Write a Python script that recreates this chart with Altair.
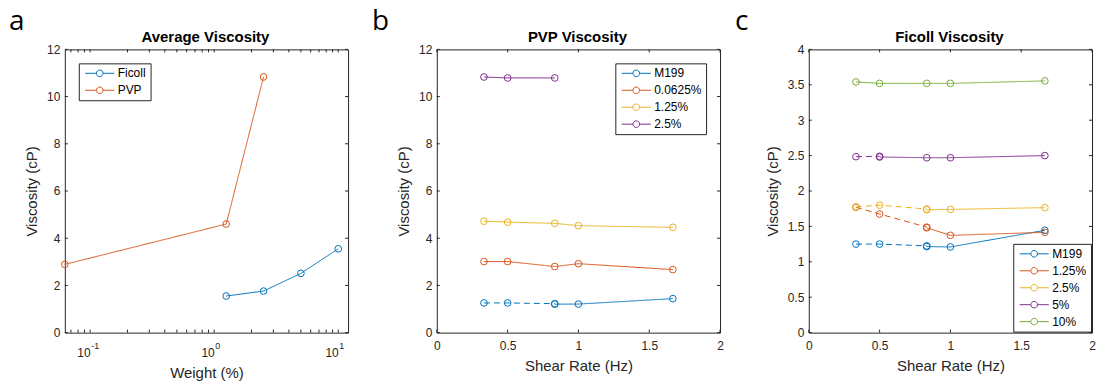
import altair as alt
import pandas as pd

# ---------------- colours / style ----------------
BLUE, ORANGE, YELLOW, PURPLE, GREEN = "#0072BD", "#D95319", "#EDB120", "#7E2F8E", "#77AC30"
AXC = "#262626"
FONT = "Liberation Sans"
W, H = 284, 284

# ---------------- panel a: average viscosity ----------------
a_series = ["Ficoll", "PVP"]
a_colors = [BLUE, ORANGE]
a_ficoll_x = [1.25, 2.5, 5, 10]
a_ficoll_y = [1.55, 1.76, 2.51, 3.55]
a_pvp_x = [0.0625, 1.25, 2.5]
a_pvp_y = [2.89, 4.60, 10.83]
a_xmajor = [0.1, 1, 10]
a_xminor = [0.07, 0.08, 0.09, 0.2, 0.3, 0.4, 0.5, 0.6, 0.7, 0.8, 0.9,
            2, 3, 4, 5, 6, 7, 8, 9]
a_exponents = ["-1", "0", "1"]
a_yticks = [0, 2, 4, 6, 8, 10, 12]

# ---------------- panel b: PVP viscosity ----------------
b_series = ["M199", "0.0625%", "1.25%", "2.5%"]
b_colors = [BLUE, ORANGE, YELLOW, PURPLE]
b_m199_dash_x = [0.333, 0.5, 0.833]
b_m199_dash_y = [1.257, 1.257, 1.225]
b_m199_solid_x = [0.833, 1.0, 1.667]
b_m199_solid_y = [1.205, 1.21, 1.44]
b_p00625_x = [0.333, 0.5, 0.833, 1.0, 1.667]
b_p00625_y = [3.01, 3.01, 2.80, 2.92, 2.67]
b_p125_x = [0.333, 0.5, 0.833, 1.0, 1.667]
b_p125_y = [4.72, 4.68, 4.63, 4.53, 4.46]
b_p25_x = [0.333, 0.5, 0.833]
b_p25_y = [10.83, 10.79, 10.79]
b_yticks = [0, 2, 4, 6, 8, 10, 12]

# ---------------- panel c: Ficoll viscosity ----------------
c_series = ["M199", "1.25%", "2.5%", "5%", "10%"]
c_colors = [BLUE, ORANGE, YELLOW, PURPLE, GREEN]
c_m199_dash_x = [0.333, 0.5, 0.833]
c_m199_dash_y = [1.25, 1.25, 1.225]
c_m199_solid_x = [0.833, 1.0, 1.667]
c_m199_solid_y = [1.215, 1.21, 1.445]
c_f125_dash_x = [0.333, 0.5, 0.833]
c_f125_dash_y = [1.77, 1.675, 1.49]
c_f125_solid_x = [0.833, 1.0, 1.667]
c_f125_solid_y = [1.48, 1.374, 1.416]
c_f25_dash_x = [0.333, 0.5, 0.833]
c_f25_dash_y = [1.775, 1.80, 1.745]
c_f25_solid_x = [0.833, 1.0, 1.667]
c_f25_solid_y = [1.735, 1.74, 1.765]
c_f5_dash_x = [0.333, 0.5]
c_f5_dash_y = [2.485, 2.49]
c_f5_solid_x = [0.5, 0.833, 1.0, 1.667]
c_f5_solid_y = [2.48, 2.47, 2.47, 2.50]
c_f10_x = [0.333, 0.5, 0.833, 1.0, 1.667]
c_f10_y = [3.54, 3.52, 3.52, 3.52, 3.555]
c_yticks = [0, 0.5, 1, 1.5, 2, 2.5, 3, 3.5, 4]

shear_ticks = [0, 0.5, 1, 1.5, 2]


def seg(series, style, key, xs, ys):
    return pd.DataFrame({"series": series, "style": style, "seg": key, "x": xs, "y": ys})


df_a = pd.concat([
    seg("Ficoll", "solid", "f", a_ficoll_x, a_ficoll_y),
    seg("PVP", "solid", "p", a_pvp_x, a_pvp_y),
])
df_b = pd.concat([
    seg("M199", "dash", "m1", b_m199_dash_x, b_m199_dash_y),
    seg("M199", "solid", "m2", b_m199_solid_x, b_m199_solid_y),
    seg("0.0625%", "solid", "a", b_p00625_x, b_p00625_y),
    seg("1.25%", "solid", "b", b_p125_x, b_p125_y),
    seg("2.5%", "solid", "c", b_p25_x, b_p25_y),
])
df_c = pd.concat([
    seg("M199", "dash", "m1", c_m199_dash_x, c_m199_dash_y),
    seg("M199", "solid", "m2", c_m199_solid_x, c_m199_solid_y),
    seg("1.25%", "dash", "a1", c_f125_dash_x, c_f125_dash_y),
    seg("1.25%", "solid", "a2", c_f125_solid_x, c_f125_solid_y),
    seg("2.5%", "dash", "b1", c_f25_dash_x, c_f25_dash_y),
    seg("2.5%", "solid", "b2", c_f25_solid_x, c_f25_solid_y),
    seg("5%", "dash", "c1", c_f5_dash_x, c_f5_dash_y),
    seg("5%", "solid", "c2", c_f5_solid_x, c_f5_solid_y),
    seg("10%", "solid", "d", c_f10_x, c_f10_y),
])

LEG_PATH = "M-4.4,0L-1,0M1,0L4.4,0M-1,0A1,1 0 1,1 1,0A1,1 0 1,1 -1,0"


def panel(df, series, colors, xscale, xaxis, yscale, yaxis, xticks, yticks,
          leg_orient, leg_offset, title, letter, letter_dx, extra=None):
    legend = alt.Legend(
        title=None, orient=leg_orient, offset=leg_offset,
        fillColor="white", strokeColor=AXC, padding=4,
        symbolType=LEG_PATH, symbolSize=44, symbolStrokeWidth=1,
        symbolFillColor="transparent", symbolOffset=11,
        labelOffset=12, labelFont=FONT, labelFontSize=12, labelColor="black",
        rowPadding=5,
    )
    color = alt.Color("series:N", scale=alt.Scale(domain=series, range=colors),
                      legend=legend, sort=series)
    X = alt.X("x:Q", scale=xscale, axis=xaxis)
    Y = alt.Y("y:Q", scale=yscale, axis=yaxis)
    lines = alt.Chart(df).mark_line(strokeWidth=1).encode(
        x=X, y=Y, color=color, detail="seg:N",
        strokeDash=alt.StrokeDash("style:N", scale=alt.Scale(domain=["solid", "dash"],
                                                            range=[[1, 0], [6, 4]]),
                                  legend=None),
    )
    points = alt.Chart(df).mark_point(shape="circle", filled=False, size=45,
                                      strokeWidth=1, opacity=1).encode(
        x=X, y=Y, color=color)
    xt = pd.DataFrame({"x": xticks})
    yt = pd.DataFrame({"y": yticks})
    tb = alt.Chart(xt).mark_rule(color=AXC, strokeWidth=1).encode(
        x=X, y=alt.value(H), y2=alt.value(H - 3))
    tt = alt.Chart(xt).mark_rule(color=AXC, strokeWidth=1).encode(
        x=X, y=alt.value(0), y2=alt.value(3))
    tl = alt.Chart(yt).mark_rule(color=AXC, strokeWidth=1).encode(
        y=Y, x=alt.value(0), x2=alt.value(3))
    tr = alt.Chart(yt).mark_rule(color=AXC, strokeWidth=1).encode(
        y=Y, x=alt.value(W), x2=alt.value(W - 3))
    let = alt.Chart(pd.DataFrame({"t": [letter]})).mark_text(
        font="Open Sans", fontSize=28, align="left", baseline="alphabetic",
        color="black").encode(text="t:N", x=alt.value(letter_dx), y=alt.value(-19))
    ttl = alt.Chart(pd.DataFrame({"t": [title]})).mark_text(
        font=FONT, fontSize=15, fontWeight="bold", align="center",
        baseline="alphabetic", color="black").encode(
        text="t:N", x=alt.value(W / 2 - 1), y=alt.value(-7))
    layers = [tb, tt, tl, tr, lines, points, let, ttl]
    if extra is not None:
        layers.append(extra)
    return alt.layer(*layers).properties(width=W, height=H)


# ---- panel a ----
a_xscale = alt.Scale(type="log", domain=[0.0625, 12], nice=False)
a_xaxis = alt.Axis(title="Weight (%)", values=a_xmajor, labelExpr="'10'",
                   labelAlign="right", labelPadding=15, titlePadding=7)
a_yscale = alt.Scale(domain=[0, 12], nice=False, zero=False)
a_yaxis = alt.Axis(title="Viscosity (cP)", values=a_yticks, format="~g")
a_exp = alt.Chart(pd.DataFrame({"x": a_xmajor, "t": a_exponents})).mark_text(
    font=FONT, fontSize=9, align="left", baseline="top", dx=1, color=AXC).encode(
    x=alt.X("x:Q", scale=a_xscale, axis=a_xaxis), y=alt.value(H + 9), text="t:N")
pa = panel(df_a, a_series, a_colors, a_xscale, a_xaxis, a_yscale, a_yaxis,
           a_xmajor + a_xminor, a_yticks, "top-left", 14, "Average Viscosity", "a", -56,
           extra=a_exp)

# ---- panel b ----
sx = alt.Scale(domain=[0, 2], nice=False, zero=False)
sx_axis = alt.Axis(title="Shear Rate (Hz)", values=shear_ticks, format="~g",
                   labelPadding=8, titlePadding=7)
b_yscale = alt.Scale(domain=[0, 12], nice=False, zero=False)
b_yaxis = alt.Axis(title="Viscosity (cP)", values=b_yticks, format="~g")
pb = panel(df_b, b_series, b_colors, sx, sx_axis, b_yscale, b_yaxis,
           shear_ticks, b_yticks, "top-right", 14, "PVP Viscosity", "b", -65)

# ---- panel c ----
c_yscale = alt.Scale(domain=[0, 4], nice=False, zero=False)
c_yaxis = alt.Axis(title="Viscosity (cP)", values=c_yticks, format="~g")
pc = panel(df_c, c_series, c_colors, sx, sx_axis, c_yscale, c_yaxis,
           shear_ticks, c_yticks, "bottom-right", 1, "Ficoll Viscosity", "c", -74)

chart = alt.hconcat(pa, pb, pc, spacing=89, bounds="flush").resolve_scale(
    color="independent", strokeDash="independent", x="independent", y="independent"
).resolve_legend(color="independent").configure_view(
    stroke=AXC, strokeWidth=1
).configure_axis(
    labelFont=FONT, labelFontSize=12, labelColor=AXC,
    titleFont=FONT, titleFontSize=15, titleFontWeight="normal", titleColor=AXC,
    domain=False, ticks=False, tickSize=0, grid=False,
    labelOverlap=False, labelFlush=False,
).configure_axisY(labelPadding=5, titlePadding=7).properties(
    padding={"left": 8, "top": 7, "right": 5, "bottom": 0},
    background="white",
)

chart.save("out.html", embed_options={"renderer": "svg", "actions": False})
